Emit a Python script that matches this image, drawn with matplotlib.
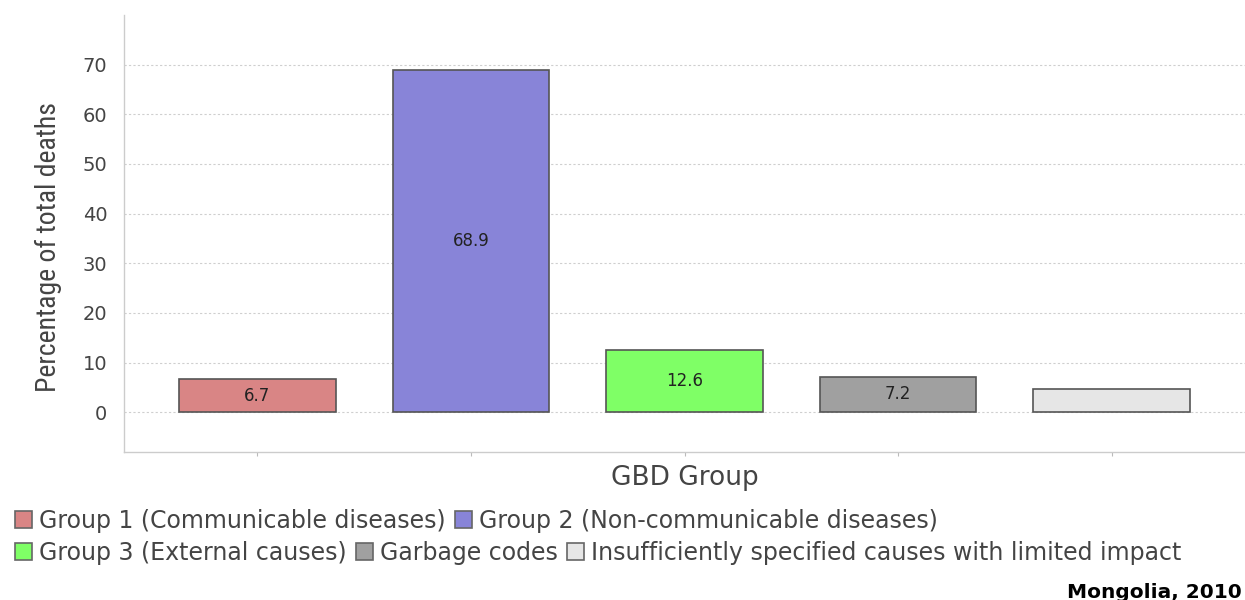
import matplotlib
matplotlib.use("Agg")
import matplotlib.pyplot as plt
from matplotlib import font_manager as fm

plt.rcParams['font.family'] = ['DejaVu Sans']

# pick a narrow face for the vertical axis title when one is installed
_installed = {f.name for f in fm.fontManager.ttflist}
_narrow = [n for n in ["Liberation Sans Narrow", "Roboto Condensed",
                       "Open Sans Condensed", "Noto Sans Condensed"] if n in _installed]
ylabel_family = (_narrow[:1] or ["Liberation Sans"]) + ["DejaVu Sans"]
ylabel_stretch = "normal" if _narrow else "condensed"

categories = [
    "Group 1 (Communicable diseases)",
    "Group 2 (Non-communicable diseases)",
    "Group 3 (External causes)",
    "Garbage codes",
    "Insufficiently specified causes with limited impact",
]
values = [6.7, 68.9, 12.6, 7.2, 4.6]
value_labels = ["6.7", "68.9", "12.6", "7.2", None]
colors = ["#d98585", "#8884d8", "#7fff66", "#a0a0a0", "#e6e6e6"]
yticks = [0, 10, 20, 30, 40, 50, 60, 70]

fig = plt.figure(figsize=(12.45, 6.0), dpi=100)
ax = fig.add_axes([124 / 1245, 1 - 452 / 600, 1 - 124 / 1245, (452 - 15) / 600])

positions = list(range(len(values)))
bars = []
for i, (v, c, lab) in enumerate(zip(values, colors, categories)):
    b = ax.bar(i, v, width=0.735, color=c, edgecolor="#555555", linewidth=1.2,
               label=lab, zorder=3)
    bars.append(b[0])
    if value_labels[i]:
        ax.text(i, v / 2, value_labels[i], ha="center", va="center",
                fontsize=12, color="#222222", zorder=4)

ax.set_xlim(-0.625, 4.625)
ax.set_ylim(-8, 80)
ax.set_yticks(yticks)
ax.set_yticklabels([str(t) for t in yticks], fontsize=14, color="#444444")
ax.set_xticks(positions)
ax.set_xticklabels([])
ax.tick_params(axis="y", length=0, pad=12)
ax.tick_params(axis="x", length=3, color="#bbbbbb")
ax.grid(axis="y", color="#cfcfcf", linestyle=(0, (2, 2)), linewidth=0.8, zorder=0)

for side in ["top", "right"]:
    ax.spines[side].set_visible(False)
for side in ["left", "bottom"]:
    ax.spines[side].set_color("#cccccc")
    ax.spines[side].set_linewidth(1.0)

ax.set_ylabel("Percentage of total deaths", fontsize=20, color="#444444",
              family=ylabel_family, fontstretch=ylabel_stretch)
ax.yaxis.set_label_coords(-0.055, 0.47)
ax.set_xlabel("GBD Group", fontsize=19, color="#444444", labelpad=3)

leg_kw = dict(frameon=False, fontsize=17, handlelength=0.7, handleheight=0.7,
              handletextpad=0.3, columnspacing=0.4, borderaxespad=0,
              labelcolor="#444444")
leg1 = fig.legend(bars[:2], categories[:2], ncol=2, loc="center left",
                  bbox_to_anchor=(6 / 1245, 1 - 521 / 600), **leg_kw)
leg2 = fig.legend(bars[2:], categories[2:], ncol=3, loc="center left",
                  bbox_to_anchor=(6 / 1245, 1 - 553 / 600), **leg_kw)
for leg in (leg1, leg2):
    for h in leg.legend_handles:
        h.set_edgecolor("#666666")

fig.text(1242 / 1245, 1 - 592 / 600, "Mongolia, 2010", fontsize=14.5,
         fontweight="bold", color="black", ha="right", va="center")

fig.savefig("out.png", dpi=100, facecolor="white")
